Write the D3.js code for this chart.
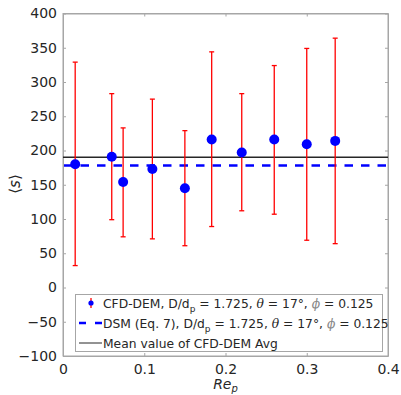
<!DOCTYPE html>
<html><head><meta charset="utf-8">
<script src="https://cdn.jsdelivr.net/npm/d3@7"></script>
<style>body{margin:0;background:#fff}svg text{font-family:"DejaVu Sans",sans-serif}</style>
</head><body>
<svg id="c" width="401" height="395"></svg>
<script>
const rep = [0.015, 0.060, 0.074, 0.110, 0.150, 0.183, 0.220, 0.260, 0.300, 0.335];
const sMean = [180, 191, 154, 173, 145, 216, 197, 216, 209, 214];
const sUpper = [329, 283, 233, 275, 229, 344, 283, 324, 349, 364];
const sLower = [32, 99, 74, 71, 61, 89, 112, 107, 69, 64];
const dsmValue = 178;
const meanValue = 190;
const xTicks = [0, 0.1, 0.2, 0.3, 0.4];
const yTicks = [-100, -50, 0, 50, 100, 150, 200, 250, 300, 350, 400];
const legendLabels = ["CFD-DEM, D/d", "DSM (Eq. 7), D/d", "Mean value of CFD-DEM Avg"];

const svg = d3.select("#c");
const L = 63, R = 388, T = 13.5, B = 356;
const x = d3.scaleLinear().domain([0, 0.4]).range([L, R]);
const y = d3.scaleLinear().domain([-100, 400]).range([B, T]);
const axisCol = "#a6a6a6", textCol = "#262626";

svg.append("rect").attr("x", L).attr("y", T).attr("width", R - L).attr("height", B - T)
  .attr("fill", "none").attr("stroke", axisCol).attr("stroke-width", 1);

const gx = svg.append("g").attr("transform", `translate(0,${B})`)
  .call(d3.axisBottom(x).tickValues(xTicks).tickSizeInner(-3).tickSizeOuter(0).tickPadding(8).tickFormat(d => d === 0 ? "0" : d3.format(".1f")(d)));
const gy = svg.append("g").attr("transform", `translate(${L},0)`)
  .call(d3.axisLeft(y).tickValues(yTicks).tickSizeInner(-3).tickSizeOuter(0).tickPadding(6));
const gr = svg.append("g").attr("transform", `translate(${R},0)`)
  .call(d3.axisRight(y).tickValues(yTicks).tickSizeInner(-3).tickSizeOuter(0).tickFormat(""));
const gt = svg.append("g").attr("transform", `translate(0,${T})`)
  .call(d3.axisTop(x).tickValues(xTicks).tickSizeInner(-3).tickSizeOuter(0).tickFormat(""));
[gx, gy, gr, gt].forEach(g => {
  g.select(".domain").attr("stroke", axisCol);
  g.selectAll(".tick line").attr("stroke", axisCol);
  g.selectAll("text").attr("fill", textCol).attr("font-size", 14).attr("font-family", "DejaVu Sans, sans-serif");
});

svg.append("line").attr("x1", L).attr("x2", R).attr("y1", y(meanValue)).attr("y2", y(meanValue))
  .attr("stroke", "#262626").attr("stroke-width", 1.5);
svg.append("line").attr("x1", L + 1).attr("x2", R).attr("y1", y(dsmValue)).attr("y2", y(dsmValue))
  .attr("stroke", "#0000ff").attr("stroke-width", 2.5).attr("stroke-dasharray", "8.5,8");

const data = rep.map((r, i) => ({r, m: sMean[i], u: sUpper[i], l: sLower[i]}));
const eb = svg.append("g");
data.forEach(d => {
  const cx = x(d.r);
  eb.append("line").attr("x1", cx).attr("x2", cx).attr("y1", y(d.l)).attr("y2", y(d.u))
    .attr("stroke", "#ff0000").attr("stroke-width", 1.3);
  [d.l, d.u].forEach(v => eb.append("line").attr("x1", cx - 2.5).attr("x2", cx + 2.5)
    .attr("y1", y(v)).attr("y2", y(v)).attr("stroke", "#ff0000").attr("stroke-width", 1.3));
});
svg.append("g").selectAll("circle").data(data).join("circle")
  .attr("cx", d => x(d.r)).attr("cy", d => y(d.m)).attr("r", 5).attr("fill", "#0000ff");

const lg = svg.append("g");
lg.append("rect").attr("x", 75.5).attr("y", 294.5).attr("width", 307).attr("height", 57)
  .attr("fill", "#fff").attr("stroke", axisCol).attr("stroke-width", 1);
const rowY = [303, 323, 343];
lg.append("line").attr("x1", 91).attr("x2", 91).attr("y1", rowY[0] - 5).attr("y2", rowY[0] + 5).attr("stroke", "#ff0000").attr("stroke-width", 1.3);
lg.append("circle").attr("cx", 91).attr("cy", rowY[0]).attr("r", 2.6).attr("fill", "#0000ff");
lg.append("line").attr("x1", 79).attr("x2", 102).attr("y1", rowY[1]).attr("y2", rowY[1])
  .attr("stroke", "#0000ff").attr("stroke-width", 2.5).attr("stroke-dasharray", "7,9");
lg.append("line").attr("x1", 79).attr("x2", 102).attr("y1", rowY[2]).attr("y2", rowY[2])
  .attr("stroke", "#262626").attr("stroke-width", 1);
const fs = 12.3;
function paramText(t, yy, label) {
  const tx = t.append("text").attr("x", 103).attr("y", yy + 4.5).attr("font-size", fs).attr("fill", textCol);
  tx.append("tspan").text(label);
  tx.append("tspan").attr("font-size", 9).attr("dy", 4).text("p");
  tx.append("tspan").attr("dy", -4).text(" = 1.725, ");
  tx.append("tspan").attr("font-family", "DejaVu Serif, serif").attr("font-style", "italic").text("θ");
  tx.append("tspan").text(" = 17°, ");
  tx.append("tspan").attr("font-family", "DejaVu Serif, serif").attr("font-style", "italic").attr("fill", "#888").text("ϕ");
  tx.append("tspan").text(" = 0.125");
}
paramText(lg, rowY[0], legendLabels[0]);
paramText(lg, rowY[1], legendLabels[1]);
lg.append("text").attr("x", 103).attr("y", rowY[2] + 4.5).attr("font-size", fs).attr("fill", textCol).text(legendLabels[2]);

const xl = svg.append("text").attr("x", (L + R) / 2).attr("y", 389).attr("text-anchor", "middle")
  .attr("font-family", "DejaVu Serif, serif").attr("font-style", "italic").attr("font-size", 14).attr("fill", textCol);
xl.append("tspan").text("Re");
xl.append("tspan").attr("font-size", 10).attr("dy", 3).text("p");
svg.append("text").attr("transform", "translate(20,184) rotate(-90)").attr("text-anchor", "middle")
  .attr("font-family", "DejaVu Serif, serif").attr("font-size", 15).attr("fill", textCol)
  .html('⟨<tspan font-style="italic">s</tspan>⟩');
</script>
</body></html>
